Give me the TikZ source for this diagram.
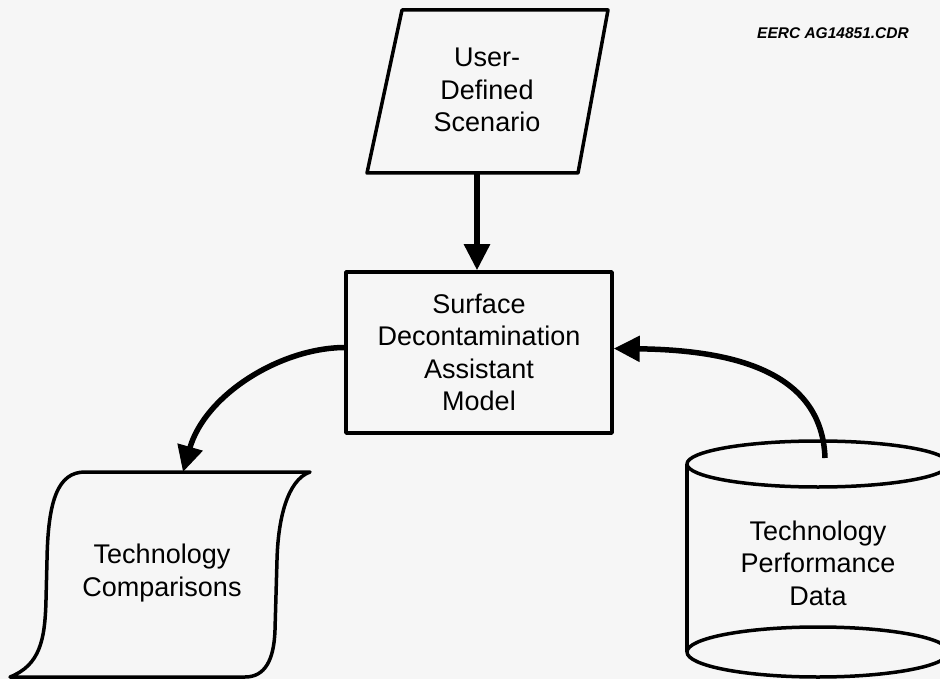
\documentclass[tikz,border=0pt]{standalone}
\usepackage{fontspec}
\setmainfont{Liberation Sans}
\usetikzlibrary{arrows.meta}
\definecolor{paper}{HTML}{F6F6F6}
\begin{document}
\begin{tikzpicture}[x=1pt,y=-1pt,
  outline/.style={line width=3.5pt, line join=round},
  flow/.style={line width=5.5pt, -{Triangle[length=26pt,width=25pt]}},
  label/.style={align=center, font=\fontsize{27}{32.5}\selectfont, inner sep=0pt}]
\useasboundingbox (0,0) rectangle (940,679);
\fill[paper] (0,0) rectangle (940,679);

% tag in the corner
\node[font=\fontsize{15.5}{17}\selectfont\bfseries\itshape, inner sep=0pt] (tag) at (833,33) {EERC AG14851.CDR};

% input: parallelogram
\draw[outline] (402,10) -- (608,10) -- (578,173) -- (367,173) -- cycle;
\node[label] (scenario) at (487,90) {User-\\Defined\\Scenario};
\coordinate (scenariobase) at (477,173);

% process: model box
\node[draw, outline, label, minimum width=266pt, minimum height=161pt] (model) at (479,352.5) {Surface\\Decontamination\\Assistant\\Model};

% output: document sheet
\draw[outline] (10,677) .. controls (40,665) and (45,640) .. (46,600)
  -- (47,560) .. controls (48,500) and (58,472) .. (85,472)
  -- (310,472) .. controls (287,480) and (278,520) .. (277,560)
  -- (275,630) .. controls (274,660) and (265,677) .. (245,677) -- cycle;
\node[label] (report) at (162,573) {Technology\\Comparisons};
\coordinate (reporttop) at (183,472);

% data store: cylinder
\draw[outline] (818,464) ellipse [x radius=131, y radius=23];
\draw[outline] (818,652) ellipse [x radius=131, y radius=25];
\draw[outline] (687,464) -- (687,652);
\draw[outline] (949,464) -- (949,652);
\node[label] (data) at (818,563) {Technology\\Performance\\Data};
\coordinate (datatop) at (825,458);

% connectors
\draw[flow] (scenariobase) -- (scenariobase |- model.north);
\draw[flow] ([yshift=5pt]model.west) .. controls (280,348) and (205,395) .. (reporttop);
\draw[flow] (datatop) .. controls (822,370) and (730,350) .. ([yshift=4pt]model.east);
\end{tikzpicture}
\end{document}
